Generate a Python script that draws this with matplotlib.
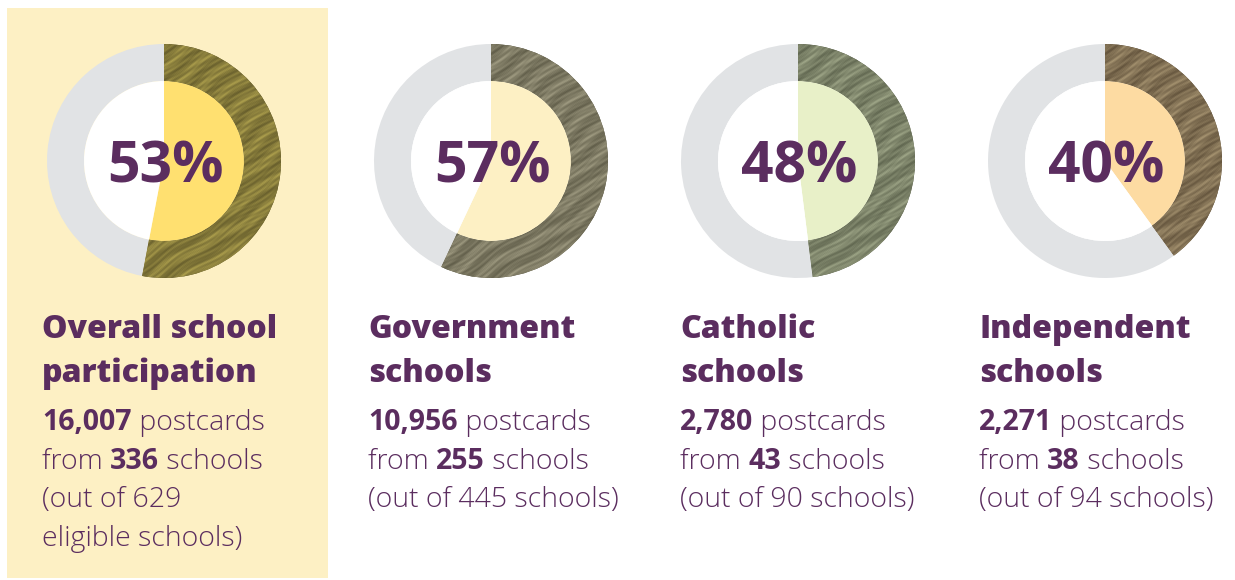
"""
Participación de escuelas: cuatro donuts con el porcentaje y su texto.
"""

# ---------------------------------------------------------------------
# Librerías
# ---------------------------------------------------------------------
import numpy as np
import matplotlib.pyplot as plt
from matplotlib.colors import LinearSegmentedColormap
from matplotlib.patches import Rectangle

# ---------------------------------------------------------------------
# Datos
# ---------------------------------------------------------------------
pct = [53, 57, 48, 40]
title_l1 = ["Overall school", "Government", "Catholic", "Independent"]
title_l2 = ["participation", "schools", "schools", "schools"]
postcards = ["16,007", "10,956", "2,780", "2,271"]
from_schools = ["336", "255", "43", "38"]
out_of = [["(out of 629", "eligible schools)"],
          ["(out of 445 schools)"],
          ["(out of 90 schools)"],
          ["(out of 94 schools)"]]

# ---------------------------------------------------------------------
# Estilo
# ---------------------------------------------------------------------
W, H = 1235, 580
purple = "#5B2D5F"
ring_gray = "#E1E3E5"
highlight = "#FDF0C4"
inner_fill = ["#FFE070", "#FDF0C4", "#E8F0C8", "#FDDBA2"]
tex_dark = ["#5A5226", "#55523F", "#545A45", "#574833"]
tex_light = ["#CDBD5C", "#BDB89C", "#BCC4A2", "#C4B088"]
cx = [164, 491, 798, 1105]
cy = 161
r_out, r_in = 117, 80
text_x = [42, 368, 680, 979]

plt.rcParams["font.family"] = ["Open Sans", "DejaVu Sans"]

fig = plt.figure(figsize=(W / 100, H / 100), dpi=100)
bg = fig.add_axes([0, 0, 1, 1])
bg.set_xlim(0, W)
bg.set_ylim(H, 0)
bg.axis("off")
bg.add_patch(Rectangle((7, 8), 321, 570, color=highlight, lw=0, zorder=0))

# textura tipo veta (patrón fijo, solo decorativo)
g = np.linspace(-1, 1, 500)
gx, gy = np.meshgrid(g, g)
a = np.deg2rad(33)
u = -gx * np.sin(a) + gy * np.cos(a)
v = gx * np.cos(a) + gy * np.sin(a)
grain = (0.6 * np.sin(2 * np.pi * 6 * u + 1.1 * np.sin(4 * v) + 0.6 * np.sin(13 * v + 3 * u))
         + 0.5 * np.sin(2 * np.pi * 17 * u + 2.0 * np.sin(7 * v + 1.0))
         + 0.4 * np.sin(2 * np.pi * 29 * u + 3.0 * np.sin(11 * v + 2.0))
         + 0.5 * np.sin(2 * np.pi * 53 * (u + 0.4 * v)) * np.sin(2 * np.pi * 47 * (v - 0.3 * u))
         + 0.45 * np.sin(2 * np.pi * 71 * (0.7 * gx + 0.3 * gy)) * np.sin(2 * np.pi * 67 * (gy - 0.2 * gx))
         + 0.3 * np.sin(2 * np.pi * 97 * (gx - 0.6 * gy)) * np.sin(2 * np.pi * 89 * (gy + 0.5 * gx)))
grain = (grain - grain.min()) / (grain.max() - grain.min())
grain = grain ** 1.4

pad = 1.03
for i, p in enumerate(pct):
    left = (cx[i] - r_out * pad) / W
    bottom = (H - cy - r_out * pad) / H
    ax = fig.add_axes([left, bottom, 2 * r_out * pad / W, 2 * r_out * pad / H])
    outer, _ = ax.pie([p, 100 - p], radius=1, startangle=90, counterclock=False,
                      colors=[tex_dark[i], ring_gray],
                      wedgeprops=dict(width=1 - r_in / r_out, linewidth=0))
    ax.pie([p, 100 - p], radius=r_in / r_out, startangle=90, counterclock=False,
           colors=[inner_fill[i], "white"], wedgeprops=dict(linewidth=0))
    cmap = LinearSegmentedColormap.from_list("t%d" % i, [tex_dark[i], tex_light[i]])
    im = ax.imshow(grain, cmap=cmap, extent=(-1, 1, -1, 1), origin="lower",
                   interpolation="bilinear", zorder=3)
    im.set_clip_path(outer[0])
    ax.text(0.01, -0.055, "%d%%" % p, ha="center", va="center",
            fontsize=41, fontweight="bold", color=purple, zorder=6)
    ax.set_xlim(-pad, pad)
    ax.set_ylim(-pad, pad)
    ax.set_aspect("equal")
    ax.axis("off")

    # títulos
    x = text_x[i]
    bg.text(x, 338, title_l1[i], fontsize=23, fontweight="extra bold", color=purple, va="baseline")
    bg.text(x, 382, title_l2[i], fontsize=23, fontweight="extra bold", color=purple, va="baseline")

    # texto del cuerpo
    body = dict(fontsize=20.5, color=purple)
    t1 = bg.text(x, 430, postcards[i], fontweight="bold", va="baseline", **body)
    bg.annotate(" postcards", xy=(1, 0), xycoords=t1, va="bottom", fontweight="light", **body)
    t2 = bg.text(x, 469, "from ", fontweight="light", va="baseline", **body)
    t3 = bg.annotate(from_schools[i], xy=(1, 0), xycoords=t2, va="bottom",
                     fontweight="bold", **body)
    bg.annotate(" schools", xy=(1, 0), xycoords=t3, va="bottom", fontweight="light", **body)
    for k, line in enumerate(out_of[i]):
        bg.text(x, 507 + 39 * k, line, fontweight="light", va="baseline", **body)

fig.savefig("out.png", dpi=100)
